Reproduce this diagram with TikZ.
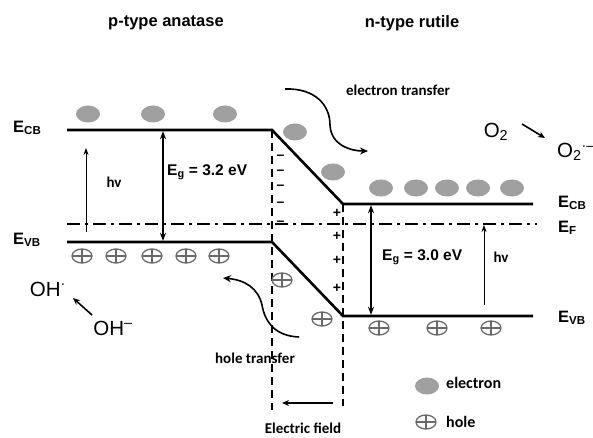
\documentclass[tikz,border=0pt]{standalone}
\usepackage{fontspec}
\setmainfont{Liberation Sans}
\newfontfamily\calfont{Carlito}
\usetikzlibrary{arrows.meta,shapes.geometric}
\definecolor{elgray}{RGB}{160,160,160}
\definecolor{holegray}{RGB}{105,105,105}
\begin{document}
\begin{tikzpicture}[x=1pt,y=-1pt,
  level/.style={line width=2.6pt},
  fermi/.style={line width=1.8pt, dash pattern=on 13pt off 5pt on 3pt off 5pt},
  bound/.style={line width=1.2pt, dash pattern=on 8pt off 5pt},
  gaparrow/.style={line width=1.6pt, {Stealth[length=8pt,width=6pt]}-{Stealth[length=8pt,width=6pt]}, shorten <=1.2pt, shorten >=1.2pt},
  photon/.style={line width=0.8pt, -{Stealth[length=7pt,width=5pt]}},
  transfer/.style={line width=1.6pt, -{Stealth[length=8pt,width=7pt]}},
  plain/.style={line width=1.6pt, -{Stealth[length=7pt,width=6pt]}},
  electron/.style={ellipse, fill=elgray, minimum width=24pt, minimum height=17pt, inner sep=0pt},
  hole/.style={ellipse, draw=holegray, line width=1.3pt, minimum width=20pt, minimum height=14pt, inner sep=0pt,
    path picture={\draw[holegray,line width=1.3pt] (path picture bounding box.north) -- (path picture bounding box.south)
      (path picture bounding box.west) -- (path picture bounding box.east);}},
  title/.style={font=\bfseries\fontsize{16.5}{18}\selectfont},
  elabel/.style={anchor=west, inner sep=0pt, font=\bfseries\fontsize{16.5}{18}\selectfont},
  eglabel/.style={anchor=west, inner sep=0pt, font=\bfseries\fontsize{15.5}{18}\selectfont},
  small/.style={font=\calfont\bfseries\fontsize{15}{17}\selectfont},
  hvlabel/.style={font=\calfont\bfseries\fontsize{15}{16}\selectfont},
  chem/.style={inner sep=0pt, font=\fontsize{20.5}{22}\selectfont},
  charge/.style={inner sep=0pt, font=\bfseries\fontsize{14}{14}\selectfont}
]
\useasboundingbox (0,0) rectangle (593,438);

% titles
\node[title] (tA) at (166,23) {p-type anatase};
\node[title] (tR) at (412,23) {n-type rutile};

% band corners
\coordinate (cbL0) at (67,130);  \coordinate (cbL1) at (272,130);
\coordinate (cbR0) at (343,204); \coordinate (cbR1) at (533,204);
\coordinate (vbL0) at (67,242);  \coordinate (vbL1) at (272,242);
\coordinate (vbR0) at (343,316); \coordinate (vbR1) at (533,316);
\coordinate (ef0) at (67,224);   \coordinate (ef1) at (537,224);
\coordinate (dL1) at (272,410);  \coordinate (dR1) at (343,406);

% depletion boundaries
\draw[bound] (cbL1) -- (dL1);
\draw[bound] (cbR0) -- (dR1);

% Fermi level
\draw[fermi] (ef0) -- (ef1);

% band edges
\draw[level] (cbL0) -- (cbL1) -- (cbR0) -- (cbR1);
\draw[level] (vbL0) -- (vbL1) -- (vbR0) -- (vbR1);

% labels
\node[elabel] (lcbL) at (13,128) {E\textsubscript{CB}};
\node[elabel] (lvbL) at (13,240) {E\textsubscript{VB}};
\node[elabel] (lcbR) at (558,203) {E\textsubscript{CB}};
\node[elabel] (lefR) at (558,228) {E\textsubscript{F}};
\node[elabel] (lvbR) at (558,318) {E\textsubscript{VB}};

% band gaps
\coordinate (gL0) at (163,130); \coordinate (gL1) at (163,242);
\coordinate (gR0) at (371,204); \coordinate (gR1) at (371,316);
\draw[gaparrow] (gL0) -- (gL1);
\draw[gaparrow] (gR0) -- (gR1);
\node[eglabel] (egL) at (167,172) {E\textsubscript{g} = 3.2 eV};
\node[eglabel] (egR) at (382,257) {E\textsubscript{g} = 3.0 eV};

% photon excitations
\coordinate (hL0) at (86,232); \coordinate (hL1) at (86,148);
\coordinate (hR0) at (484,305); \coordinate (hR1) at (484,225);
\draw[photon] (hL0) -- (hL1);
\draw[photon] (hR0) -- (hR1);
\node[hvlabel] (hvL) at (114,182) {hv};
\node[hvlabel] (hvR) at (501,257) {hv};

% space charges
\foreach \y [count=\i] in {157,172,187,204,223} \node[charge] (m\i) at (280.5,\y) {–};
\foreach \y [count=\i] in {213,236,260,288} \node[charge] (p\i) at (337,\y) {+};

% electrons
\foreach \x/\y [count=\i] in {88/114,153/114,225/114,295/132,333/172,381/188,416/188,447/188,478/188,512/188}
  \node[electron] (el\i) at (\x,\y) {};
% holes
\foreach \x/\y [count=\i] in {82/256,116/256,152/256,186/256,219/256,282/280,322/319,379/328,437/328,491/328}
  \node[hole] (ho\i) at (\x,\y) {};

% electron transfer
\coordinate (et0) at (285,89); \coordinate (et1) at (368,151);
\draw[transfer] (et0) .. controls (315,88) and (330,105) .. (330,125)
  .. controls (331,145) and (350,151) .. (et1);
\node[small] (etl) at (398,90) {electron transfer};

% hole transfer
\coordinate (ht0) at (299,337); \coordinate (ht1) at (223,278);
\draw[transfer] (ht0) .. controls (275,336) and (265,322) .. (262,305)
  .. controls (258,288) and (245,280) .. (ht1);
\node[small] (htl) at (255,358) {hole transfer};

% electric field
\coordinate (f0) at (333,403); \coordinate (f1) at (282,403);
\draw[line width=1.4pt, -{Stealth[length=7pt,width=6pt]}] (f0) -- (f1);
\node[small] (efl) at (303,428) {Electric field};

% redox
\node[chem] (o2) at (496,132) {O\textsubscript{2}};
\node[chem, anchor=west] (o2r) at (557,152) {O\textsubscript{2}\textsuperscript{·–}};
\coordinate (oa0) at (522,124); \coordinate (oa1) at (545,138);
\draw[plain] (oa0) -- (oa1);
\node[chem] (oh1) at (48,289) {OH\textsuperscript{·}};
\node[chem] (oh2) at (113,328) {OH\textsuperscript{–}};
\coordinate (ha0) at (92,315); \coordinate (ha1) at (73,298);
\draw[plain] (ha0) -- (ha1);

% legend
\node[electron] (lge) at (427,386) {};
\node[small, anchor=west, inner sep=0pt, font=\calfont\bfseries\fontsize{16}{18}\selectfont] (lget) at (446,383) {electron};
\node[hole] (lgh) at (426,422) {};
\node[small, anchor=west, inner sep=0pt, font=\calfont\bfseries\fontsize{16}{18}\selectfont] (lght) at (446,422) {hole};
\end{tikzpicture}
\end{document}
